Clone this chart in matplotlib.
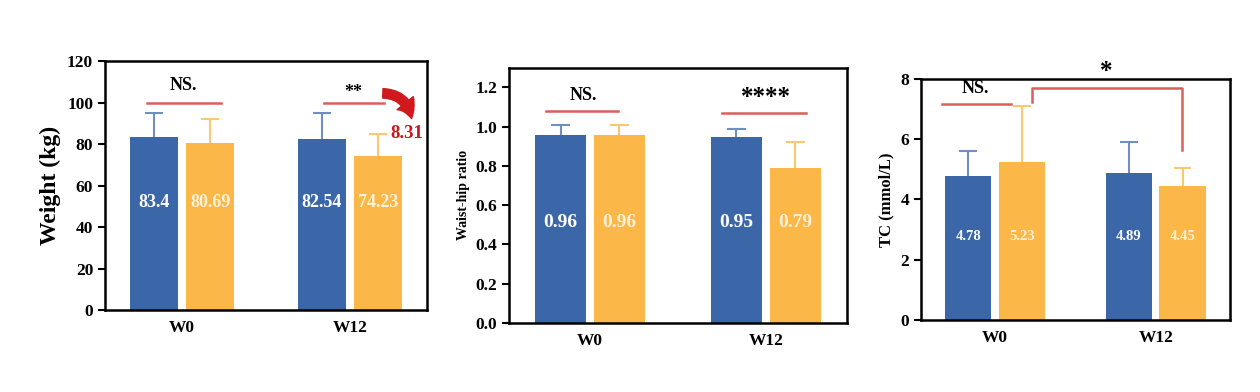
import matplotlib.pyplot as plt
from matplotlib.patches import FancyArrowPatch
import numpy as np

groups = ['W0', 'W12']

weight_blue = [83.4, 82.54]
weight_orange = [80.69, 74.23]
weight_blue_sd = [11.6, 12.5]
weight_orange_sd = [11.3, 10.8]

whr_blue = [0.96, 0.95]
whr_orange = [0.96, 0.79]
whr_blue_sd = [0.05, 0.04]
whr_orange_sd = [0.05, 0.13]

tc_blue = [4.78, 4.89]
tc_orange = [5.23, 4.45]
tc_blue_sd = [0.82, 1.0]
tc_orange_sd = [1.87, 0.6]

plt.rcParams['font.family'] = ['Liberation Serif', 'DejaVu Serif']
plt.rcParams['font.weight'] = 'bold'

BLUE = '#3b67a8'
ORANGE = '#fbb748'
BLUE_ERR = '#6f8fc2'
ORANGE_ERR = '#fcc86e'
RED = '#d9605a'
W = 0.29
OFF = 0.167
CAP = 0.055


def upper_err(ax, xs, ys, sds, color):
    # only the upper half of the error bar, line hidden behind the bar
    for x, y, sd in zip(xs, ys, sds):
        ax.vlines(x, y - 1e-9, y + sd, color=color, lw=1.5, zorder=1)
        ax.hlines(y + sd, x - CAP, x + CAP, color=color, lw=1.5, zorder=1)


def draw_panel(ax, blue, orange, blue_sd, orange_sd, ylim, yticks, fmt, ylabel,
               ylabel_size, val_y, val_size):
    x = np.arange(len(groups))
    ax.bar(x - OFF, blue, W, color=BLUE, zorder=2)
    ax.bar(x + OFF, orange, W, color=ORANGE, zorder=2)
    upper_err(ax, x - OFF, blue, blue_sd, BLUE_ERR)
    upper_err(ax, x + OFF, orange, orange_sd, ORANGE_ERR)
    for i in range(len(groups)):
        ax.text(x[i] - OFF, val_y, fmt.format(blue[i]), color='white', ha='center',
                va='center', fontsize=val_size, fontweight='bold', zorder=3)
        ax.text(x[i] + OFF, val_y, fmt.format(orange[i]), color='#fff2d8', ha='center',
                va='center', fontsize=val_size, fontweight='bold', zorder=3)
    ax.set_xlim(-0.46, 1.46)
    ax.set_ylim(*ylim)
    ax.set_yticks(yticks)
    ax.set_xticks(x)
    ax.set_xticklabels(groups, fontsize=12.5, fontweight='bold')
    ax.tick_params(axis='x', length=0, pad=7)
    ax.tick_params(axis='y', labelsize=12.5, width=1.5, length=5)
    for s in ax.spines.values():
        s.set_linewidth(1.8)
    ax.set_ylabel(ylabel, fontsize=ylabel_size, fontweight='bold')


fig = plt.figure(figsize=(12.6, 3.92), dpi=100)

# Weight
ax1 = fig.add_axes([0.0833, 0.209, 0.2556, 0.635])
draw_panel(ax1, weight_blue, weight_orange, weight_blue_sd, weight_orange_sd,
           (0, 120), range(0, 121, 20), '{:g}', 'Weight (kg)', 17, 52, 13)
ax1.plot([-0.21, 0.23], [100, 100], color=RED, lw=1.8)
ax1.text(0.01, 104, 'NS.', ha='center', va='bottom', fontsize=13, fontweight='bold')
ax1.plot([0.843, 1.205], [100, 100], color=RED, lw=1.8)
ax1.text(1.02, 101, '**', ha='center', va='bottom', fontsize=13, fontweight='bold')
arrow = FancyArrowPatch((1.18, 104.5), (1.37, 91), connectionstyle='arc3,rad=-0.45',
                        arrowstyle='simple,head_width=1.0,head_length=0.8,tail_width=0.45',
                        mutation_scale=15, color='#d0191d', clip_on=False, zorder=4)
ax1.add_patch(arrow)
ax1.text(1.34, 85, '8.31', color='#c8161c', ha='center', va='center', fontsize=13.5,
         fontweight='bold', zorder=4, clip_on=False)

# Waist-hip ratio
ax2 = fig.add_axes([0.404, 0.176, 0.268, 0.651])
draw_panel(ax2, whr_blue, whr_orange, whr_blue_sd, whr_orange_sd,
           (0, 1.3), np.arange(0, 1.21, 0.2), '{:.2f}', 'Waist-hip ratio', 10, 0.51, 14)
ax2.set_yticklabels(['{:.1f}'.format(v) for v in np.arange(0, 1.21, 0.2)])
ax2.plot([-0.25, 0.16], [1.081, 1.081], color=RED, lw=1.8)
ax2.text(-0.04, 1.115, 'NS.', ha='center', va='bottom', fontsize=13, fontweight='bold')
ax2.plot([0.75, 1.23], [1.071, 1.071], color=RED, lw=1.8)
ax2.text(1.0, 1.09, '****', ha='center', va='bottom', fontsize=18, fontweight='bold')

# TC
ax3 = fig.add_axes([0.731, 0.184, 0.245, 0.615])
draw_panel(ax3, tc_blue, tc_orange, tc_blue_sd, tc_orange_sd,
           (0, 8), range(0, 9, 2), '{:.2f}', 'TC (mmol/L)', 12, 2.76, 10.5)
ax3.plot([-0.33, 0.10], [7.17, 7.17], color=RED, lw=1.8)
ax3.text(-0.12, 7.38, 'NS.', ha='center', va='bottom', fontsize=13, fontweight='bold')
ax3.plot([0.23, 0.23, 1.166, 1.166], [7.24, 7.7, 7.7, 5.65], color=RED, lw=1.8)
ax3.text(0.69, 7.85, '*', ha='center', va='bottom', fontsize=18, fontweight='bold',
         clip_on=False)

fig.savefig('out.png', dpi=100)
